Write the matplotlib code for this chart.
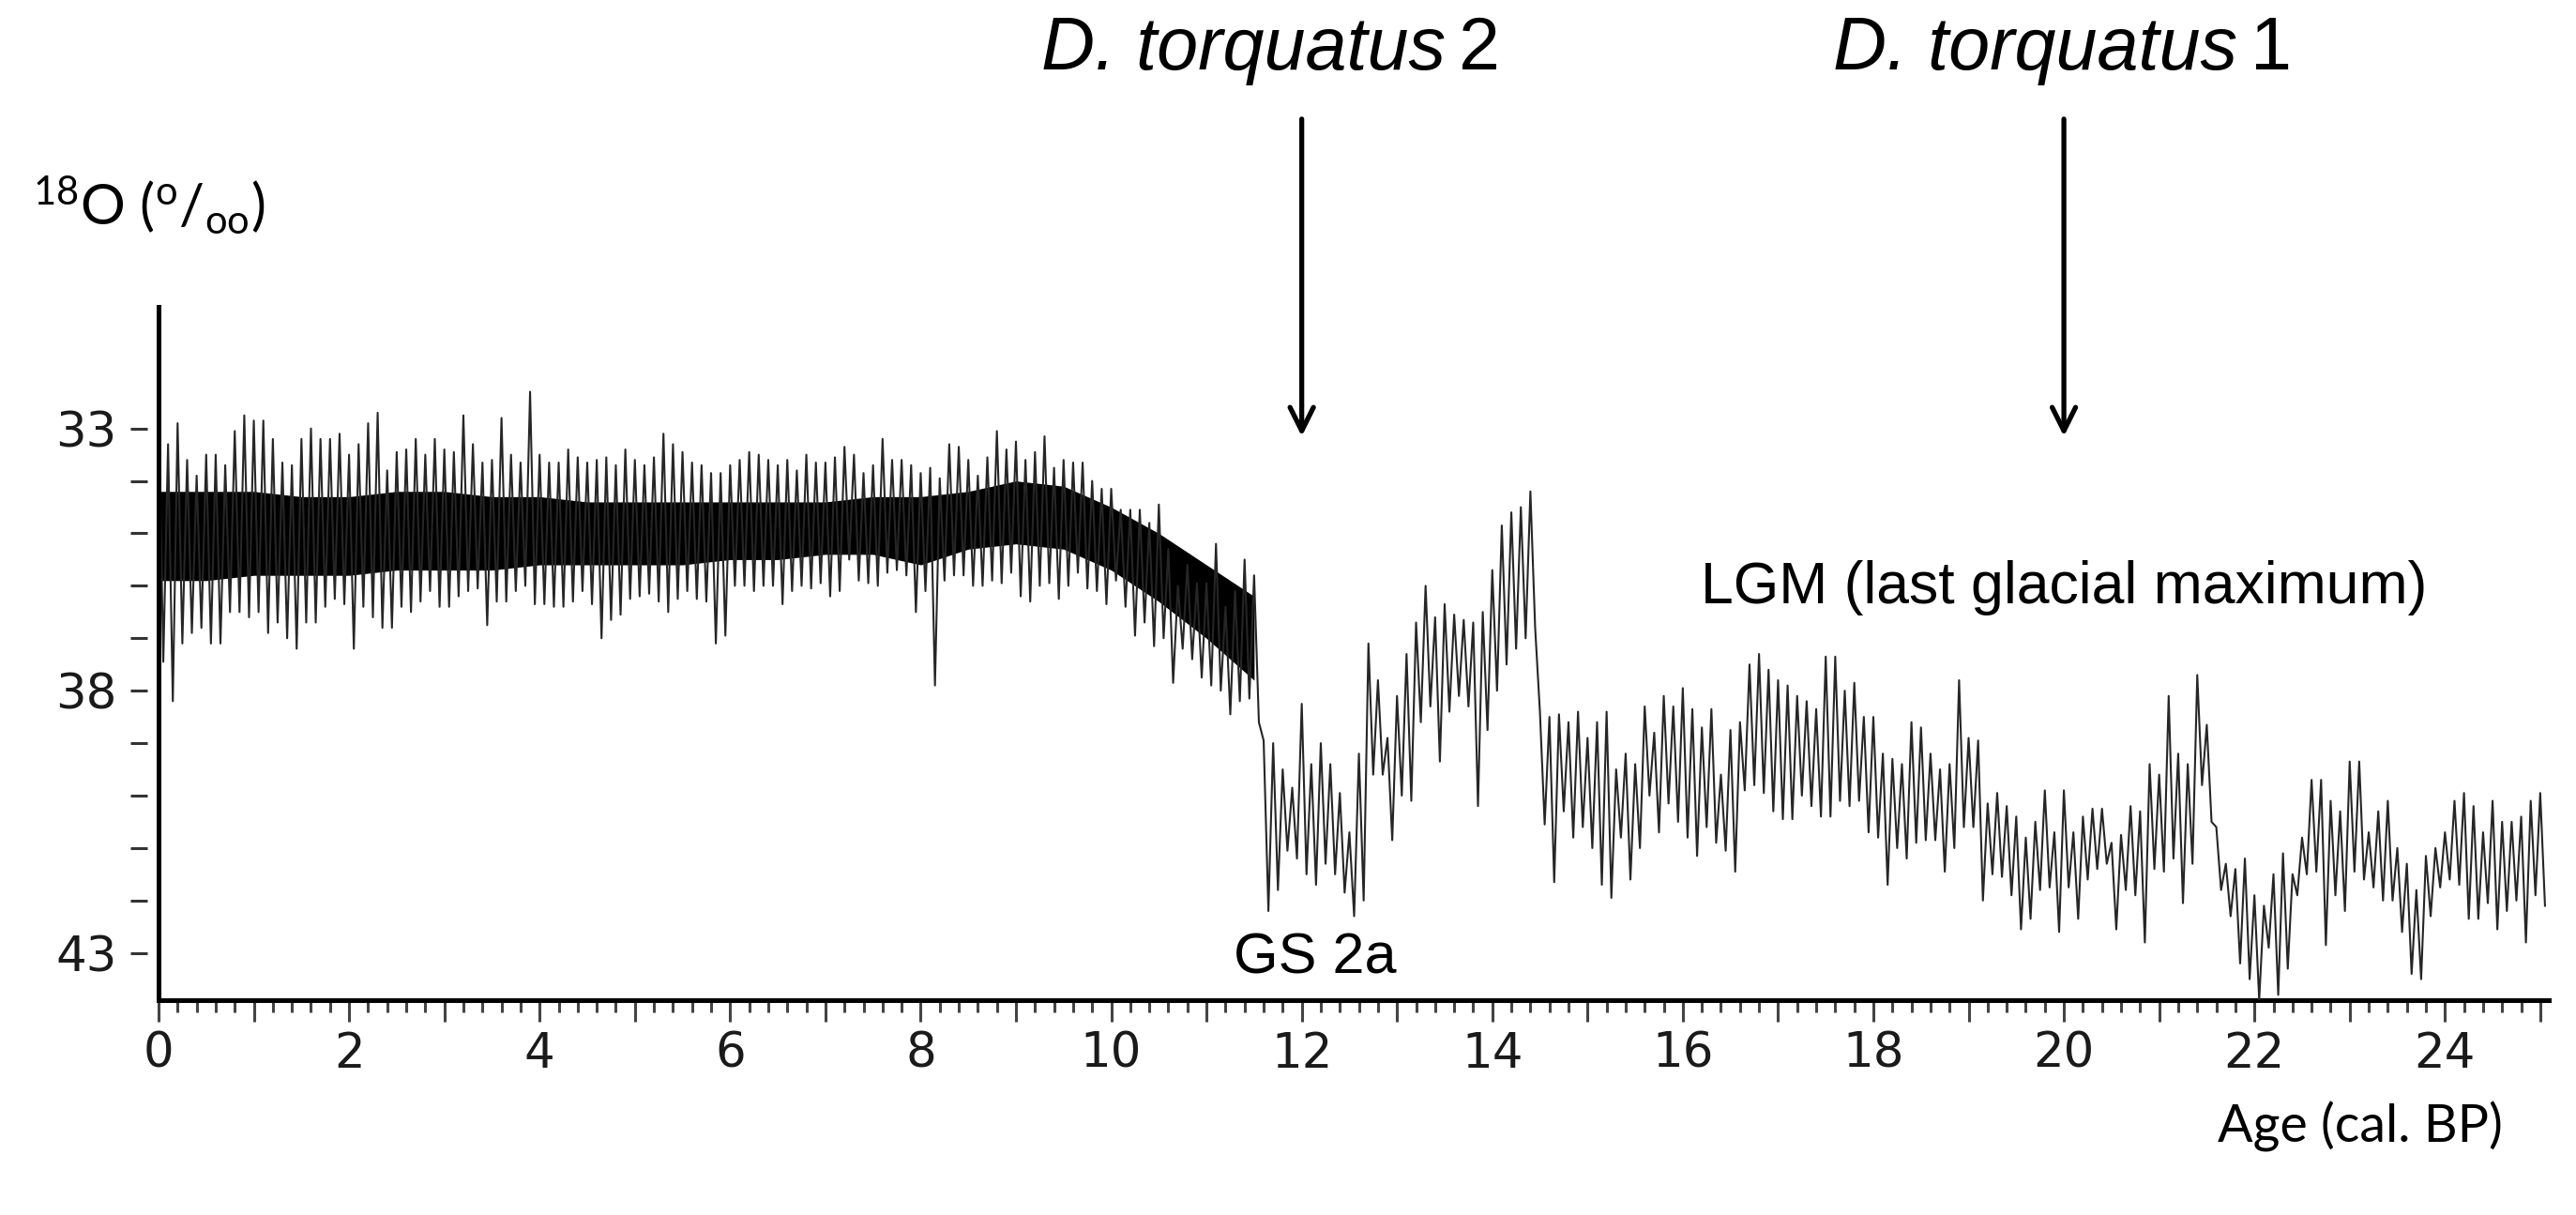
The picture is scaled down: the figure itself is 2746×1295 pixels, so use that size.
import numpy as np
import matplotlib
matplotlib.use("Agg")
import matplotlib.pyplot as plt
from matplotlib.ticker import MultipleLocator, FixedLocator, FuncFormatter

W, H = 2746, 1295

# ---------------- data ----------------
# ages of the 0.1 kyr bins (cal. kyr BP)
ages = np.round(np.arange(0, 25.0001, 0.1), 1)

# upper extreme (lowest value, axis is inverted) reached inside each bin
spike_top = [
    32.5, 33.3, 32.9, 33.6, 33.9, 33.5, 33.5, 33.7, 33.05, 32.75,
    32.85, 32.85, 33.2, 33.65, 33.7, 33.2, 33.0, 33.2, 33.2, 33.1,
    33.5, 33.3, 32.9, 32.7, 33.8, 33.45, 33.4, 33.2, 33.5, 33.2,
    33.4, 33.45, 32.75, 33.3, 33.65, 33.6, 32.8, 33.5, 33.65, 32.3,
    33.5, 33.65, 33.65, 33.4, 33.55, 33.65, 33.6, 33.55, 33.7, 33.4,
    33.6, 33.7, 33.55, 33.1, 33.3, 33.45, 33.65, 33.7, 33.85, 33.85,
    33.7, 33.6, 33.45, 33.5, 33.6, 33.7, 33.6, 33.8, 33.5, 33.65,
    33.65, 33.55, 33.35, 33.5, 33.85, 33.7, 33.2, 33.6, 33.6, 33.7,
    33.85, 33.75, 33.95, 33.3, 33.35, 33.6, 33.9, 33.55, 33.05, 33.4,
    33.25, 33.6, 33.45, 33.15, 33.75, 33.6, 33.65, 33.65, 34.0, 34.15,
    34.15, 34.55, 34.55, 34.55, 34.8, 34.45, 35.3, 36.0, 35.6, 35.95,
    35.95, 35.2, 36.4, 36.1, 35.5, 35.8, 38.95, 39.0, 39.5, 39.85,
    38.25, 39.4, 39.0, 39.4, 39.95, 40.7, 39.2, 37.1, 37.8, 38.9,
    38.1, 37.3, 36.7, 36.0, 36.6, 36.35, 36.55, 36.65, 36.7, 36.5,
    35.7, 34.85, 34.6, 34.5, 34.2, 38.4, 38.5, 38.45, 38.6, 38.4,
    38.9, 38.6, 38.4, 39.5, 39.2, 39.4, 38.3, 38.8, 38.1, 38.3,
    37.95, 38.35, 38.7, 38.35, 39.6, 38.75, 38.6, 37.5, 37.3, 37.6,
    37.8, 37.9, 38.1, 38.2, 38.35, 37.35, 37.35, 38.0, 37.85, 38.5,
    38.5, 39.2, 39.3, 39.4, 38.6, 38.7, 39.2, 39.5, 39.4, 37.8,
    38.9, 38.95, 40.15, 39.95, 40.2, 40.4, 40.8, 40.5, 39.9, 40.7,
    39.9, 40.7, 40.4, 40.25, 40.25, 40.9, 40.75, 40.2, 40.3, 39.4,
    39.6, 38.1, 39.2, 39.4, 37.7, 38.65, 40.6, 41.3, 41.4, 41.2,
    41.9, 42.1, 41.5, 41.1, 41.5, 40.8, 39.7, 39.7, 40.1, 40.3,
    39.35, 39.35, 40.7, 40.3, 40.1, 41.0, 41.3, 41.8, 41.15, 41.0,
    40.7, 40.1, 39.95, 40.2, 40.7, 40.1, 40.5, 40.5, 40.4, 40.1,
    39.95,
]

# lower extreme (highest value) reached inside each bin
spike_bot = [
    37.45, 38.2, 37.1, 36.9, 36.8, 37.1, 37.1, 36.5, 36.5, 36.6,
    36.5, 36.9, 36.7, 37.0, 37.2, 36.7, 36.7, 36.4, 36.25, 36.35,
    37.2, 36.4, 36.6, 36.8, 36.8, 36.4, 36.5, 36.3, 36.1, 36.4,
    36.4, 36.2, 36.1, 36.05, 36.75, 36.3, 36.3, 36.1, 36.0, 36.35,
    36.35, 36.4, 36.4, 36.3, 36.1, 36.35, 37.0, 36.65, 36.55, 36.25,
    36.2, 36.15, 36.3, 36.5, 36.25, 36.1, 36.25, 36.3, 37.1, 36.95,
    36.0, 36.0, 36.1, 36.0, 36.0, 36.35, 36.1, 36.0, 36.05, 35.95,
    36.2, 36.1, 35.5, 35.9, 35.95, 36.0, 35.75, 35.7, 35.8, 36.5,
    36.1, 37.9, 35.9, 35.8, 35.8, 36.0, 36.0, 35.9, 35.95, 35.75,
    36.2, 36.3, 36.0, 35.95, 36.25, 36.0, 35.75, 36.05, 36.1, 36.35,
    35.9, 36.4, 36.95, 36.7, 37.15, 37.0, 37.85, 37.2, 37.4, 37.75,
    37.9, 38.0, 38.45, 38.2, 38.15, 38.6, 42.2, 41.8, 41.05, 41.2,
    41.5, 41.7, 41.3, 41.5, 41.85, 42.3, 42.0, 39.6, 39.6, 40.85,
    40.0, 40.1, 38.6, 38.3, 39.35, 38.4, 38.1, 38.3, 40.2, 38.75,
    38.0, 37.5, 37.2, 37.0, 36.8, 40.55, 41.65, 40.3, 40.8, 40.6,
    41.0, 41.7, 41.95, 40.8, 41.6, 41.0, 40.0, 40.7, 40.15, 40.5,
    40.8, 41.15, 40.6, 40.9, 41.05, 41.45, 39.9, 39.8, 39.95, 40.3,
    40.45, 40.45, 40.0, 40.2, 40.4, 40.4, 40.1, 40.2, 40.1, 40.7,
    40.8, 41.7, 41.0, 41.2, 40.9, 40.85, 40.85, 41.45, 41.0, 40.6,
    40.6, 42.0, 41.5, 41.55, 41.9, 42.55, 42.35, 41.8, 41.75, 42.6,
    41.75, 42.35, 41.6, 41.4, 41.3, 42.55, 41.8, 41.9, 42.8, 41.4,
    41.45, 41.2, 42.05, 41.3, 39.8, 40.5, 41.8, 42.3, 43.2, 43.5,
    43.9, 42.9, 43.8, 43.3, 41.9, 41.5, 41.45, 42.85, 41.9, 42.2,
    41.45, 41.6, 41.75, 42.0, 42.0, 42.6, 43.4, 43.5, 42.3, 41.75,
    41.6, 41.7, 42.35, 42.35, 42.05, 42.55, 42.2, 42.0, 42.8, 41.9,
    42.1,
]

# dense black core of the high-resolution Holocene / deglacial part
core_ages = [0.0, 0.5, 1.0, 1.5, 2.0, 2.5, 3.0, 3.5, 4.0, 4.5, 5.0, 5.5,
             6.0, 6.5, 7.0, 7.5, 8.0, 8.5, 9.0, 9.5, 10.0, 10.5, 11.0, 11.5]
core_top = [34.2, 34.2, 34.2, 34.3, 34.3, 34.2, 34.2, 34.3, 34.3, 34.4, 34.4, 34.4,
            34.4, 34.4, 34.4, 34.3, 34.3, 34.2, 34.0, 34.1, 34.5, 35.0, 35.6, 36.2]
core_bot = [35.9, 35.9, 35.8, 35.8, 35.8, 35.7, 35.7, 35.7, 35.6, 35.6, 35.6, 35.6,
            35.5, 35.5, 35.4, 35.4, 35.6, 35.3, 35.2, 35.3, 35.7, 36.3, 37.0, 37.8]

ytick_major = [33, 38, 43]
ytick_minor = [34, 35, 36, 37, 39, 40, 41, 42]

arrow_ages = [12.0, 20.0]
arrow_names = ["D. torquatus", "D. torquatus"]
arrow_nums = ["2", "1"]

# ---------------- figure ----------------
plt.rcParams['font.family'] = ['Lato', 'DejaVu Sans']
plt.rcParams['mathtext.fontset'] = 'custom'
plt.rcParams['mathtext.rm'] = 'Lato'
plt.rcParams['mathtext.it'] = 'Lato:italic'
plt.rcParams['mathtext.bf'] = 'Lato:bold'

fig = plt.figure(figsize=(W / 100, H / 100), dpi=100)
fig.patch.set_facecolor('white')


def fx(px):
    return px / W


def fy(py):
    return 1 - py / H


ax_l, ax_r, ax_t, ax_b = 169, 2717, 327, 1066
ax = fig.add_axes([fx(ax_l), fy(ax_b), (ax_r - ax_l) / W, (ax_b - ax_t) / H])
ax.set_xlim(0, 25.09)
ax.set_ylim(43.9, 30.68)

# dense core
ax.fill_between(core_ages, core_top, core_bot, color='black', lw=0, zorder=2)

# record: alternate between the extremes of each bin
ages_arr = np.asarray(ages)
zz_x = np.empty(2 * len(ages_arr))
zz_y = np.empty(2 * len(ages_arr))
zz_x[0::2] = ages_arr
zz_x[1::2] = ages_arr + 0.05
zz_y[0::2] = spike_top
zz_y[1::2] = spike_bot
ax.plot(zz_x, zz_y, color='#262626', lw=1.5, zorder=3, clip_on=True)

# spines
for s in ['top', 'right']:
    ax.spines[s].set_visible(False)
ax.spines['bottom'].set_linewidth(3.6)
ax.spines['left'].set_position(('outward', 9))
ax.spines['left'].set_visible(False)
ax.axvline(0, color='black', lw=3.6, clip_on=False, zorder=5)

# ticks
ax.yaxis.set_major_locator(FixedLocator(ytick_major))
ax.yaxis.set_minor_locator(FixedLocator(ytick_minor))
ax.tick_params(axis='y', which='both', direction='out', length=13, width=2.2,
               color='#333333', pad=10, labelsize=37,
               labelfontfamily='DejaVu Sans', labelcolor='#1a1a1a')
ax.xaxis.set_major_locator(MultipleLocator(1))
ax.xaxis.set_minor_locator(MultipleLocator(0.2))
ax.xaxis.set_major_formatter(FuncFormatter(
    lambda v, p: '%d' % round(v) if round(v) % 2 == 0 else ''))
ax.tick_params(axis='x', which='major', direction='out', length=16.5, width=2.2,
               color='#444444', pad=7, labelsize=37,
               labelfontfamily='DejaVu Sans', labelcolor='#1a1a1a')
ax.tick_params(axis='x', which='minor', direction='out', length=9, width=2.2,
               color='#444444')

# arrows with species labels
for a in arrow_ages:
    ax.annotate('', xy=(a, 33.15), xytext=(a, 27.1),
                arrowprops=dict(arrowstyle='->', lw=3.8, color='black',
                                mutation_scale=45, shrinkA=0, shrinkB=0),
                annotation_clip=False)

label_right = [1541, 2385]
for xr, name, num in zip(label_right, arrow_names, arrow_nums):
    fig.text(fx(xr), fy(74), name, fontsize=57, style='italic',
             family=['Liberation Sans', 'DejaVu Sans'], ha='right', va='baseline')
    fig.text(fx(xr + 14), fy(74), num, fontsize=57,
             family=['Liberation Sans', 'DejaVu Sans'], ha='left', va='baseline')

fig.text(fx(1813), fy(643), 'LGM (last glacial maximum)', fontsize=45,
         family=['Liberation Sans', 'DejaVu Sans'], ha='left', va='baseline')
fig.text(fx(1315), fy(1038), 'GS 2a', fontsize=44,
         family=['Liberation Sans', 'DejaVu Sans'], ha='left', va='baseline')

fig.text(fx(35), fy(240), r'$^{18}$O ($^{\mathrm{o}}$/$_{\mathrm{oo}}$)', fontsize=43,
         ha='left', va='baseline')
fig.text(fx(2364), fy(1218), 'Age (cal. BP)', fontsize=40, ha='left', va='baseline')

fig.savefig('out.png', dpi=100, facecolor='white')
